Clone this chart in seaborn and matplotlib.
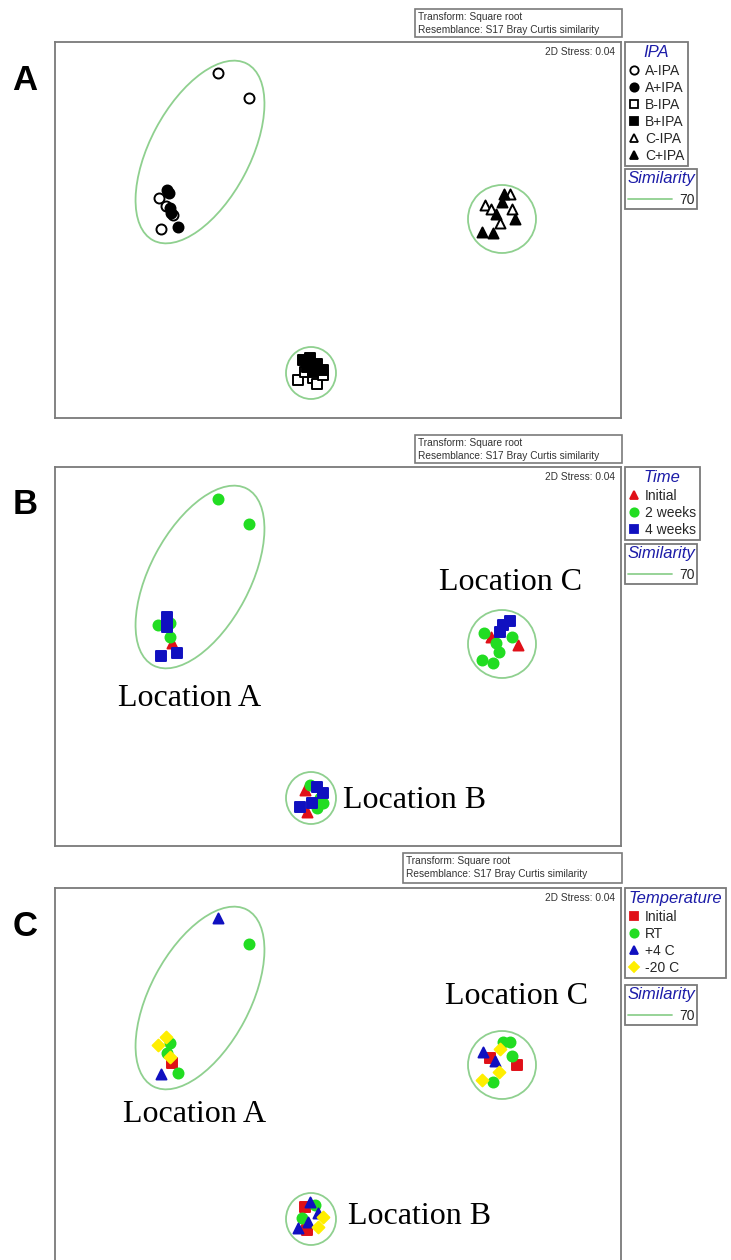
import numpy as np
import pandas as pd
import matplotlib
matplotlib.use("Agg")
import matplotlib.pyplot as plt
import seaborn as sns
from matplotlib.patches import Ellipse, Rectangle
from matplotlib.lines import Line2D

# ---------------- data (NMDS ordination coordinates) ----------------
# Panel A : IPA
a_groups = ["A-IPA", "A+IPA", "B-IPA", "B+IPA", "C-IPA", "C+IPA"]
a_x = {
    "A-IPA": [104, 111, 118, 106, 163, 194],
    "A+IPA": [112, 114, 115, 116, 123],
    "B-IPA": [243, 250, 258, 262, 268],
    "B+IPA": [248, 255, 262, 268, 258, 252],
    "C-IPA": [430, 436, 455, 457, 445],
    "C+IPA": [449, 447, 441, 460, 427, 438],
}
a_y = {
    "A-IPA": [156, 164, 173, 187, 31, 56],
    "A+IPA": [148, 151, 166, 171, 185],
    "B-IPA": [338, 330, 336, 342, 333],
    "B+IPA": [318, 316, 322, 328, 330, 325],
    "C-IPA": [163, 167, 152, 167, 181],
    "C+IPA": [152, 160, 172, 177, 190, 191],
}

# Panel B : Time
b_groups = ["Initial", "2 weeks", "4 weeks"]
b_x = {
    "Initial": [117, 436, 463, 250, 252],
    "2 weeks": [163, 194, 103, 115, 115, 429, 441, 457, 444, 427, 438, 255, 265, 262, 268],
    "4 weeks": [112, 112, 106, 122, 455, 448, 445, 262, 268, 245, 257],
}
b_y = {
    "Initial": [176, 170, 178, 323, 345],
    "2 weeks": [32, 57, 158, 156, 170, 166, 176, 170, 185, 193, 196, 318, 331, 341, 336],
    "4 weeks": [150, 160, 189, 186, 154, 158, 165, 320, 326, 340, 336],
}

# Panel C : Temperature
c_groups = ["Initial", "RT", "+4 C", "-20 C"]
c_x = {
    "Initial": [117, 435, 462, 250, 252],
    "RT": [194, 115, 112, 123, 448, 455, 457, 438, 260, 247],
    "+4 C": [163, 106, 428, 440, 255, 263, 253, 243],
    "-20 C": [103, 111, 115, 445, 444, 427, 268, 263],
}
c_y = {
    "Initial": [175, 170, 177, 319, 342],
    "RT": [56, 155, 165, 185, 154, 154, 168, 194, 317, 330],
    "+4 C": [30, 186, 164, 173, 314, 325, 334, 340],
    "-20 C": [157, 149, 169, 161, 184, 192, 329, 339],
}

similarity_level = "70"
header_lines = ["Transform: Square root", "Resemblance: S17 Bray Curtis similarity"]
stress_label = "2D Stress: 0.04"

# ---------------- styles ----------------
a_style = {
    "A-IPA": dict(marker="o", fc="white", ec="black"),
    "A+IPA": dict(marker="o", fc="black", ec="black"),
    "B-IPA": dict(marker="s", fc="white", ec="black"),
    "B+IPA": dict(marker="s", fc="black", ec="black"),
    "C-IPA": dict(marker="^", fc="white", ec="black"),
    "C+IPA": dict(marker="^", fc="black", ec="black"),
}
RED, GREEN, BLUE, YELLOW = "#e01018", "#22dd22", "#1010c0", "#ffee00"
b_style = {
    "Initial": dict(marker="^", fc=RED, ec=RED),
    "2 weeks": dict(marker="o", fc=GREEN, ec=GREEN),
    "4 weeks": dict(marker="s", fc=BLUE, ec=BLUE),
}
c_style = {
    "Initial": dict(marker="s", fc=RED, ec=RED),
    "RT": dict(marker="o", fc=GREEN, ec=GREEN),
    "+4 C": dict(marker="^", fc=BLUE, ec=BLUE),
    "-20 C": dict(marker="D", fc=YELLOW, ec=YELLOW),
}

# similarity contours (center x, center y, width, height, angle)
contours = [(145, 110, 200, 100, -62), (447, 177, 68, 68, 0), (256, 331, 50, 52, 0)]

sns.set_theme(style="white")
plt.rcParams["font.family"] = ["Liberation Sans", "DejaVu Sans"]

W, H = 731, 1260
fig = plt.figure(figsize=(W / 100, H / 100), dpi=100)


def fx(px):
    return px / W


def fy(py):
    return 1 - py / H


BOX_EC = "#7a7a7a"
TITLE_C = "#1c1ca8"


def make_df(groups, xs, ys):
    rows = []
    for g in groups:
        for x, y in zip(xs[g], ys[g]):
            rows.append((g, x, y))
    return pd.DataFrame(rows, columns=["group", "x", "y"])


def panel(top, bottom, header_left, header_top, header_h, letter, df, groups, styles,
          leg_title, leg_top, sim_top, labels=None, size=52, align="center"):
    left, right = 55, 621
    ax = fig.add_axes([fx(left), fy(bottom), fx(right) - fx(left), fy(top) - fy(bottom)])
    ax.set_xlim(0, right - left)
    ax.set_ylim(bottom - top, 0)
    ax.set_xticks([])
    ax.set_yticks([])
    for sp in ax.spines.values():
        sp.set_color(BOX_EC)
        sp.set_linewidth(1.3)
    ax.set_facecolor("white")

    for cx, cy, w, h, ang in contours:
        ax.add_patch(Ellipse((cx, cy), w, h, angle=ang, fill=False,
                             ec="#8fd08f", lw=1.3, zorder=1))

    for g in groups:
        st = styles[g]
        sub = df[df["group"] == g]
        sns.scatterplot(data=sub, x="x", y="y", ax=ax, marker=st["marker"],
                        facecolor=st["fc"], edgecolor=st["ec"], linewidth=1.4,
                        s=size if st["marker"] != "D" else size * 0.7, zorder=3, legend=False)
    ax.set_xlabel("")
    ax.set_ylabel("")

    ax.text(right - left - 6, 10, stress_label, ha="right", va="center", fontsize=7.3,
            color="#333333")

    # header box
    hw = 622 - header_left
    fig.add_artist(Rectangle((fx(header_left), fy(header_top + header_h)), hw / W, header_h / H,
                             transform=fig.transFigure, fill=False, ec=BOX_EC, lw=1.2))
    fig.text(fx(header_left + 3), fy(header_top + 8), header_lines[0], fontsize=7.3,
             va="center", ha="left", color="#333333")
    fig.text(fx(header_left + 3), fy(header_top + 21), header_lines[1], fontsize=7.3,
             va="center", ha="left", color="#333333")

    # panel letter
    fig.text(fx(25), fy(top + 38), letter, fontsize=25, fontweight="bold",
             family=["Liberation Sans", "DejaVu Sans"], ha="center", va="center", color="black")

    # legend
    handles = []
    for g in groups:
        st = styles[g]
        handles.append(Line2D([], [], linestyle="none", marker=st["marker"],
                              markerfacecolor=st["fc"], markeredgecolor=st["ec"],
                              markeredgewidth=1.3, markersize=6 if st["marker"] != "D" else 5))
    leg = ax.legend(handles, groups, title=leg_title, loc="upper left",
                    bbox_to_anchor=(fx(625), fy(leg_top)), bbox_transform=fig.transFigure,
                    borderaxespad=0, frameon=True, fancybox=False, framealpha=1,
                    edgecolor=BOX_EC, fontsize=10, title_fontsize=12, handlelength=0.8,
                    handletextpad=0.4, labelspacing=0.22, borderpad=0.25, alignment=align)
    leg.get_frame().set_linewidth(1.3)
    leg.get_title().set_fontstyle("italic")
    leg.get_title().set_color(TITLE_C)
    ax.add_artist(leg)

    sim = ax.legend([Line2D([], [], color="#8fd08f", lw=1.3)], [similarity_level],
                    title="Similarity", loc="upper left",
                    bbox_to_anchor=(fx(625), fy(sim_top)), bbox_transform=fig.transFigure,
                    borderaxespad=0, frameon=True, fancybox=False, framealpha=1,
                    edgecolor=BOX_EC, fontsize=10, title_fontsize=12, handlelength=3.2,
                    handletextpad=0.5, borderpad=0.15)
    sim.get_frame().set_linewidth(1.3)
    sim.get_title().set_fontstyle("italic")
    sim.get_title().set_color(TITLE_C)

    if labels:
        for txt, x, y in labels:
            ax.text(x, y, txt, ha="center", va="center", fontsize=23,
                    family="Liberation Serif", color="black", zorder=5)
    return ax


df_a = make_df(a_groups, a_x, a_y)
df_b = make_df(b_groups, b_x, b_y)
df_c = make_df(c_groups, c_x, c_y)

panel(42, 418, 415, 9, 28, "A", df_a, a_groups, a_style, "IPA", 42, 169)
panel(467, 846, 415, 435, 28, "B", df_b, b_groups, b_style, "Time", 467, 544,
      labels=[("Location C", 456, 116), ("Location A", 135, 231), ("Location B", 360, 333)])
panel(888, 1265, 403, 853, 30, "C", df_c, c_groups, c_style, "Temperature", 888, 985,
      labels=[("Location C", 462, 109), ("Location A", 140, 226), ("Location B", 365, 329)],
      align="left")

fig.savefig("out.png", dpi=100, facecolor="white")
